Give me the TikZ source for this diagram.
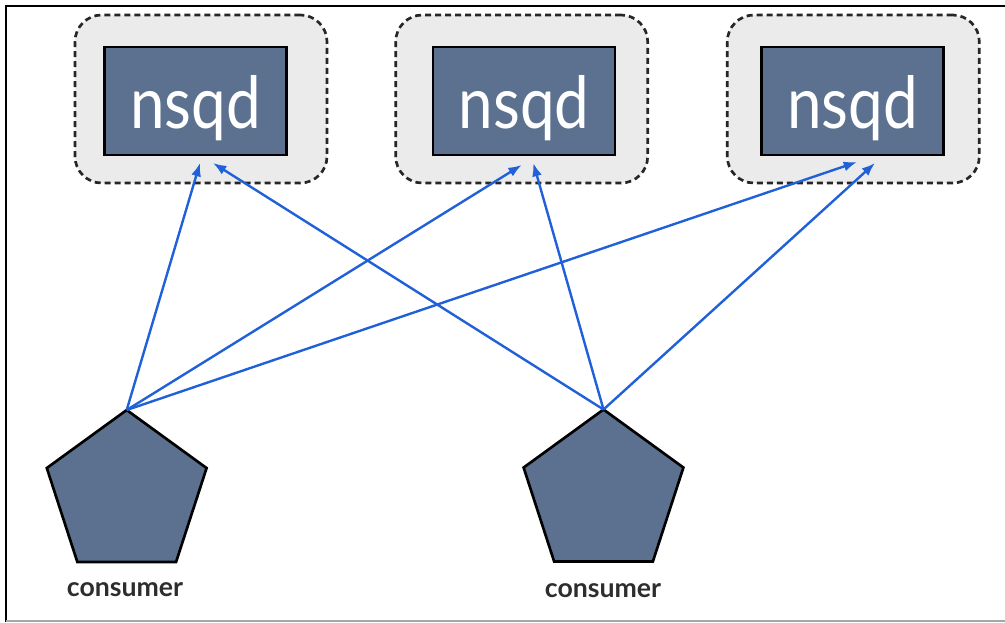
\documentclass[tikz,border=0pt]{standalone}
\usepackage{fontspec}
\setmainfont{Lato}
\usetikzlibrary{shapes.geometric,arrows.meta}
\definecolor{slate}{RGB}{91,113,143}
\definecolor{outerfill}{RGB}{235,235,235}
\definecolor{arrowblue}{RGB}{32,96,216}
\definecolor{labelgray}{RGB}{45,45,45}
\begin{document}
\begin{tikzpicture}[x=0.75pt,y=-0.75pt,
  outerbox/.style={draw=black!85,fill=outerfill,line width=2pt,dash pattern=on 4.5pt off 3pt,
    rounded corners=20pt,minimum width=189pt,minimum height=126pt,inner sep=0pt,outer sep=0pt},
  innerbox/.style={draw=black,fill=slate,line width=2pt,minimum width=136.5pt,minimum height=81pt,
    inner sep=0pt,outer sep=0pt,
    label={[text=white,font=\fontsize{54}{54}\selectfont,inner sep=0pt,yshift=-5pt]center:\scalebox{0.86}[1]{nsqd}}},
  consumerbox/.style={regular polygon,regular polygon sides=5,draw=black,fill=slate,line width=2pt,
    minimum size=126pt,inner sep=0pt,outer sep=0pt},
  clabel/.style={text=labelgray,font=\bfseries\fontsize{20}{20}\selectfont,inner sep=0pt},
  link/.style={draw=arrowblue,line width=1.8pt,-{Latex[length=10pt,width=7.5pt]}}]
\useasboundingbox (0,0) rectangle (1005,622);
\draw[line width=1.8pt] (6,622) -- (6,6) -- (1005,6);
\draw[line width=1pt,black!35] (6,621) -- (1005,621);

\node[outerbox] (o1) at (201,99) {};
\node[outerbox] (o2) at (521.7,99) {};
\node[outerbox] (o3) at (853.3,99) {};
\node[innerbox] (n1) at (195.5,101) {};
\node[innerbox] (n2) at (524,101) {};
\node[innerbox] (n3) at (852.5,101) {};

\node[consumerbox] (c1) at (126.7,494) {};
\node[consumerbox] (c2) at (603.5,493.5) {};
\node[clabel] (l1) at (125,590) {consumer};
\node[clabel] (l2) at (603,590.5) {consumer};

\draw[link] (c1.corner 1) -- ([shift={(4.5,8)}]n1.south);
\draw[link] (c1.corner 1) -- ([shift={(-2.3,10)}]n2.south);
\draw[link] (c1.corner 1) -- ([shift={(4.5,7)}]n3.south);
\draw[link] (c2.corner 1) -- ([shift={(17.5,8)}]n1.south);
\draw[link] (c2.corner 1) -- ([shift={(9.3,8)}]n2.south);
\draw[link] (c2.corner 1) -- ([shift={(22.5,8)}]n3.south);
\end{tikzpicture}
\end{document}
